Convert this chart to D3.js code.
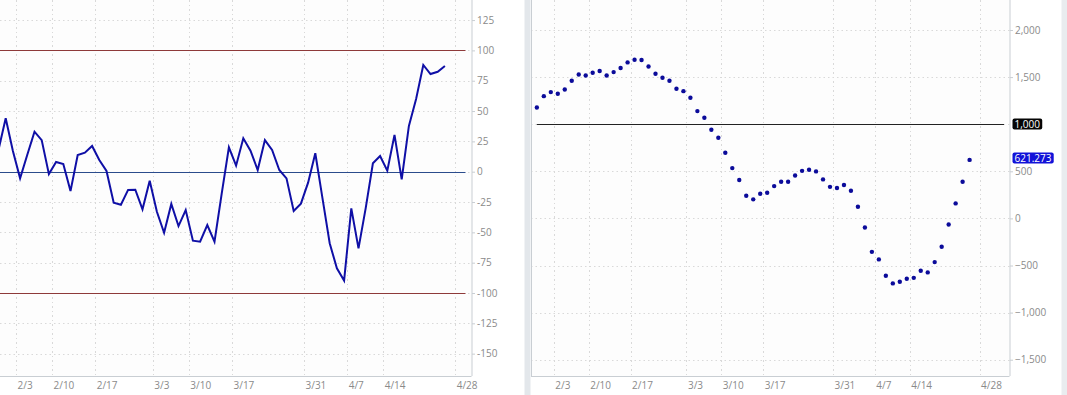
<!DOCTYPE html>
<html>
<head>
<meta charset="utf-8">
<script src="https://cdn.jsdelivr.net/npm/d3@7"></script>
<style>
  html, body { margin: 0; padding: 0; background: #ffffff; overflow: hidden; }
  svg { display: block; }
  text { font-family: "Open Sans", "Noto Sans", sans-serif; }
</style>
</head>
<body>
<script>
// ---------- data ----------
const oscValues = [18, 44, 17, -5.5, 14, 33, 26, -2, 8, 6.3,
  -16, 13.8, 15.7, 21.2, 9.6, 0.6, -25.5, -27.2, -15, -14.8,
  -31, -7.4, -33, -50.3, -26.6, -44.8, -31.6, -56.9, -57.7, -44,
  -57.7, -18, 20.1, 5, 27.5, 17.3, 1.4, 26.1, 17.9, 1.4,
  -5.5, -32.4, -26.3, -9, 15.2, -22, -59, -79.7, -89.8, -30.2,
  -63.2, -30, 6.9, 12.9, 0.8, 30.3, -6.3, 37.7, 60, 88,
  80.5, 82.4, 87.1];
const dotValues = [1178, 1298, 1341, 1323, 1369, 1461, 1528, 1517, 1546, 1564,
  1517, 1553, 1596, 1656, 1684, 1681, 1613, 1535, 1493, 1461,
  1376, 1351, 1281, 1139, 1068, 941, 856, 697, 534, 407,
  240, 202, 261, 272, 343, 389, 389, 456, 505, 516,
  499, 414, 335, 322, 354, 293, 123, -96, -355, -435,
  -609, -690, -673, -641, -631, -556, -573, -464, -301, -64,
  159, 389, 621.273];
const weekLabels = ["2/3", "2/10", "2/17", "3/3", "3/10", "3/17", "3/31", "4/7", "4/14", "4/28"];
const weekStartIndex = [3, 8, 14, 22, 27, 33, 43, 49, 54, 64];
const oscTicks = [125, 100, 75, 50, 25, 0, -25, -50, -75, -100, -125, -150];
const oscBands = [100, -100];
const oscZero = [0];
const dotTicks = [2000, 1500, 1000, 500, 0, -500, -1000, -1500];
const dotRef = [1000];

// ---------- layout ----------
const W = 1067, H = 395;
const bottom = 376;
const svg = d3.select("body").append("svg").attr("width", W).attr("height", H);
const fmt = d3.format(",");
const labelColor = "#8a8a8a";
const gridColor = "#d9d9d9";

// background pieces
svg.append("rect").attr("x", 0).attr("y", 0).attr("width", W).attr("height", H).attr("fill", "#ffffff");
svg.append("rect").attr("x", 0).attr("y", 0).attr("width", 471.5).attr("height", bottom).attr("fill", "#fdfdfd");
svg.append("rect").attr("x", 531).attr("y", 0).attr("width", 478.5).attr("height", bottom).attr("fill", "#fdfdfd");
svg.append("rect").attr("x", 524.5).attr("y", 0).attr("width", 6).attr("height", H).attr("fill", "#e3e7eb");
svg.append("rect").attr("x", 1061.5).attr("y", 0).attr("width", 6).attr("height", H).attr("fill", "#e9ecef");

function panel(cfg) {
  const g = svg.append("g");
  const clipId = "clip" + cfg.id;
  svg.append("clipPath").attr("id", clipId).append("rect")
    .attr("x", cfg.left).attr("y", 0).attr("width", cfg.right - cfg.left).attr("height", bottom);

  // vertical grid
  g.append("g").selectAll("line").data(weekStartIndex).join("line")
    .attr("x1", d => cfg.x(d - 0.5)).attr("x2", d => cfg.x(d - 0.5))
    .attr("y1", 0).attr("y2", bottom)
    .attr("stroke", gridColor).attr("stroke-width", 1).attr("stroke-dasharray", "1.5,3")
    .attr("shape-rendering", "crispEdges");
  // horizontal grid
  g.append("g").selectAll("line").data(cfg.ticks).join("line")
    .attr("x1", cfg.left).attr("x2", cfg.right)
    .attr("y1", d => Math.round(cfg.y(d)) + 0.5).attr("y2", d => Math.round(cfg.y(d)) + 0.5)
    .attr("stroke", gridColor).attr("stroke-width", 1).attr("stroke-dasharray", "1.5,3");

  // axes lines
  g.append("line").attr("x1", cfg.left).attr("x2", cfg.right).attr("y1", bottom + 0.5).attr("y2", bottom + 0.5)
    .attr("stroke", "#c9ced3");
  g.append("line").attr("x1", cfg.right + 0.5).attr("x2", cfg.right + 0.5).attr("y1", 0).attr("y2", bottom)
    .attr("stroke", "#c9ced3");
  if (cfg.leftBorder) {
    g.append("line").attr("x1", cfg.left + 0.5).attr("x2", cfg.left + 0.5).attr("y1", 0).attr("y2", bottom)
      .attr("stroke", "#c9ced3");
  }

  // y axis via d3
  const yAxis = d3.axisRight(cfg.y).tickValues(cfg.ticks.filter(t => !cfg.hideTicks.includes(t)))
    .tickSize(3).tickPadding(2).tickFormat(cfg.fmt);
  const ya = g.append("g").attr("transform", `translate(${cfg.right + 0.5},0)`).call(yAxis);
  ya.select(".domain").remove();
  ya.selectAll(".tick line").attr("stroke", "#c9ced3");
  ya.selectAll(".tick text").attr("fill", labelColor).attr("font-size", 10)
    .attr("font-family", "'Open Sans', sans-serif");

  // x axis labels
  const xAxis = d3.axisBottom(d3.scaleLinear().domain(cfg.x.domain()).range(cfg.x.range()))
    .tickValues(weekStartIndex.map(d => d - 0.5)).tickSize(0).tickPadding(0)
    .tickFormat((d, i) => weekLabels[i]);
  const xa = g.append("g").attr("transform", `translate(0,${bottom})`).call(xAxis);
  xa.select(".domain").remove();
  xa.selectAll(".tick text").attr("fill", labelColor).attr("font-size", 10)
    .attr("font-family", "'Open Sans', sans-serif")
    .attr("text-anchor", "start").attr("dx", 0.5).attr("dy", 0).attr("y", 13);

  return { g, clipId };
}

// ---------- left panel: oscillator line ----------
const xL = d3.scaleLinear().domain([0, 62]).range([-1.5, 444.9]);
const yL = d3.scaleLinear().domain([100, -100]).range([50.4, 293.0]);
const pL = panel({ id: "L", left: 0, right: 471.5, x: xL, y: yL, ticks: oscTicks, hideTicks: [],
  fmt: d => String(d), leftBorder: false });

pL.g.append("g").selectAll("line").data(oscBands).join("line")
  .attr("x1", 0).attr("x2", 465.5)
  .attr("y1", d => Math.round(yL(d)) + 0.5).attr("y2", d => Math.round(yL(d)) + 0.5)
  .attr("stroke", "#8e3a3a").attr("stroke-width", 1.2);
pL.g.append("g").selectAll("line").data(oscZero).join("line")
  .attr("x1", 0).attr("x2", 465.5)
  .attr("y1", d => Math.round(yL(d)) + 0.5).attr("y2", d => Math.round(yL(d)) + 0.5)
  .attr("stroke", "#2b4c8c").attr("stroke-width", 1.2);

pL.g.append("path").datum(oscValues)
  .attr("clip-path", `url(#${pL.clipId})`)
  .attr("fill", "none").attr("stroke", "#0f0fa6").attr("stroke-width", 2)
  .attr("stroke-linejoin", "miter")
  .attr("d", d3.line().x((d, i) => xL(i)).y(d => yL(d)));

// ---------- right panel: dots ----------
const xR = d3.scaleLinear().domain([0, 62]).range([536.85, 969.6]);
const yR = d3.scaleLinear().domain([2000, -1500]).range([30, 359.7]);
const pR = panel({ id: "R", left: 531, right: 1009.5, x: xR, y: yR, ticks: dotTicks, hideTicks: dotRef,
  fmt: d => fmt(d), leftBorder: true });

pR.g.append("g").selectAll("line").data(dotRef).join("line")
  .attr("x1", xR(0)).attr("x2", 1004)
  .attr("y1", d => Math.round(yR(d)) + 0.5).attr("y2", d => Math.round(yR(d)) + 0.5)
  .attr("stroke", "#222222").attr("stroke-width", 1.2);

pR.g.append("g").attr("clip-path", `url(#${pR.clipId})`)
  .selectAll("circle").data(dotValues).join("circle")
  .attr("cx", (d, i) => xR(i)).attr("cy", d => yR(d)).attr("r", 2.2)
  .attr("fill", "#0b0b9a");

// value tags on right axis
function tag(value, text, bg, shift) {
  const g = svg.append("g");
  const cy = Math.round(yR(value)) + shift;
  const t = g.append("text").attr("x", 1014.5).attr("y", cy).attr("dy", "0.35em")
    .attr("font-size", 10).attr("fill", "#ffffff").text(text);
  const bb = t.node().getBBox();
  g.insert("rect", "text").attr("x", bb.x - 2).attr("y", cy - 5.5)
    .attr("width", bb.width + 4).attr("height", 11).attr("rx", 2).attr("fill", bg);
}
tag(dotRef[0], fmt(dotRef[0]), "#050505", 0);
tag(dotValues[dotValues.length - 1], d3.format(".3f")(dotValues[dotValues.length - 1]), "#1212d8", -2);
</script>
</body>
</html>
